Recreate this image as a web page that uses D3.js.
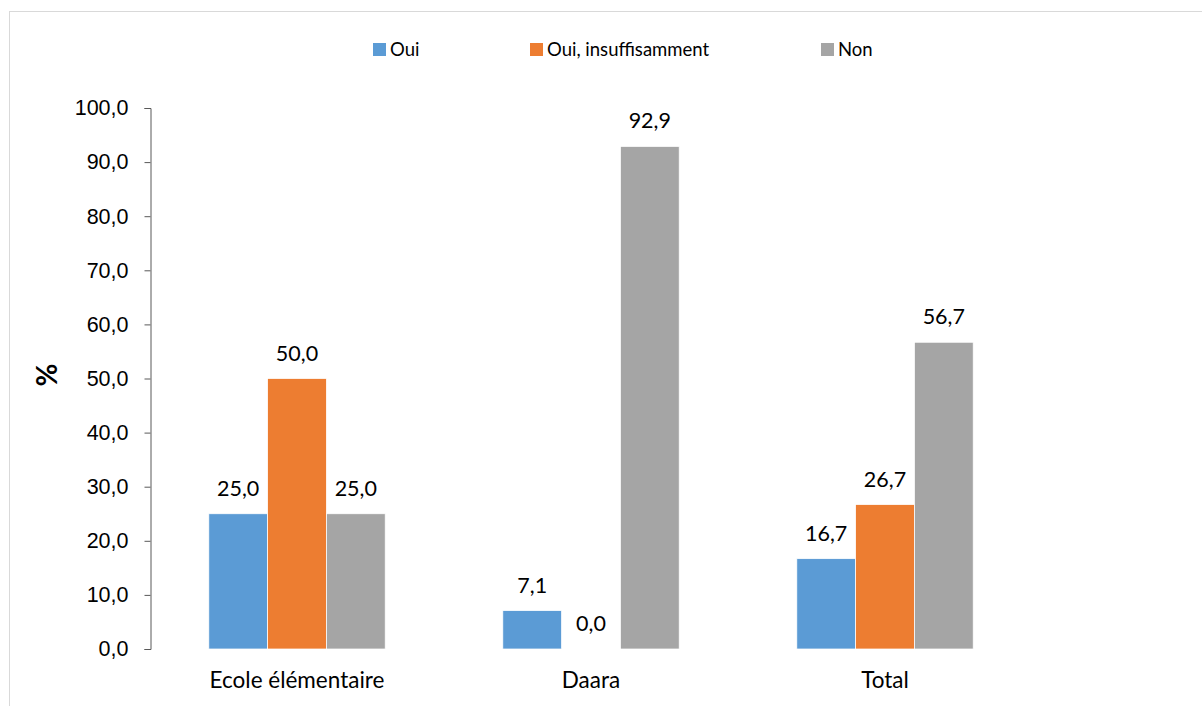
<!DOCTYPE html>
<html>
<head>
<meta charset="utf-8">
<script src="https://cdn.jsdelivr.net/npm/d3@7"></script>
<style>
  html, body { margin: 0; padding: 0; background: #fff; }
  svg { display: block; font-family: Lato, "Open Sans", sans-serif; }
</style>
</head>
<body>
<svg id="chart" width="1202" height="706"></svg>
<script>
// Survey answers by school type (percent)
const categories = ["Ecole élémentaire", "Daara", "Total"];
const seriesNames = ["Oui", "Oui, insuffisamment", "Non"];
const oui = [25.0, 7.1, 16.7];
const ouiInsuff = [50.0, 0.0, 26.7];
const non = [25.0, 92.9, 56.7];
const yTicks = [0, 10, 20, 30, 40, 50, 60, 70, 80, 90, 100];
const colors = ["#5B9BD5", "#ED7D31", "#A5A5A5"];

const seriesValues = [oui, ouiInsuff, non];
const fmt = v => v.toFixed(1).replace(".", ",");

const svg = d3.select("#chart");

// outer frame
svg.append("rect")
  .attr("x", 9.5).attr("y", 11.5)
  .attr("width", 1300).attr("height", 800)
  .attr("fill", "none").attr("stroke", "#D9D9D9").attr("stroke-width", 1);

const plot = { left: 150, right: 1032, top: 108, bottom: 649 };

const x0 = d3.scaleBand().domain(categories)
  .range([plot.left, plot.right]).paddingInner(0.4).paddingOuter(0.2);
const x1 = d3.scaleBand().domain(seriesNames).range([0, x0.bandwidth()]);
const y = d3.scaleLinear().domain([0, 100]).range([plot.bottom, plot.top]);

// y axis
const yAxis = d3.axisLeft(y).tickValues(yTicks).tickFormat(fmt).tickSizeOuter(0).tickSize(6).tickPadding(16);
const gy = svg.append("g").attr("transform", `translate(${plot.left + 0.5},0)`).call(yAxis);
gy.select(".domain").attr("stroke", "#595959");
gy.selectAll(".tick line").attr("stroke", "#595959");
gy.selectAll(".tick text").attr("font-size", 21.5).attr("fill", "#000");

// y title
svg.append("text")
  .attr("transform", "translate(57,375) rotate(-90)")
  .attr("text-anchor", "middle")
  .attr("font-size", 28).attr("font-weight", "bold").attr("fill", "#000")
  .text("%");

// bars
const groups = svg.append("g").selectAll("g")
  .data(categories).join("g")
  .attr("transform", d => `translate(${x0(d)},0)`);

groups.selectAll("rect")
  .data((c, i) => seriesNames.map((s, j) => ({ s, j, v: seriesValues[j][i] })))
  .join("rect")
  .attr("x", d => x1(d.s))
  .attr("width", x1.bandwidth())
  .attr("y", d => y(d.v))
  .attr("height", d => y(0) - y(d.v))
  .attr("fill", d => colors[d.j])
  .attr("stroke", "#fff").attr("stroke-width", 0.75);

groups.selectAll("text.val")
  .data((c, i) => seriesNames.map((s, j) => ({ s, j, v: seriesValues[j][i] })))
  .join("text")
  .attr("class", "val")
  .attr("x", d => x1(d.s) + x1.bandwidth() / 2)
  .attr("y", d => y(d.v) - 18)
  .attr("text-anchor", "middle")
  .attr("font-size", 21.5).attr("fill", "#000")
  .text(d => fmt(d.v));

// category labels
svg.append("g").selectAll("text")
  .data(categories).join("text")
  .attr("x", d => x0(d) + x0.bandwidth() / 2)
  .attr("y", 688)
  .attr("text-anchor", "middle")
  .attr("font-size", 22.5).attr("fill", "#000")
  .text(d => d);

// legend
const legendX = [373, 530, 821];
const lg = svg.append("g").selectAll("g")
  .data(seriesNames).join("g")
  .attr("transform", (d, i) => `translate(${legendX[i]},43)`);
lg.append("rect").attr("width", 13).attr("height", 13).attr("fill", (d, i) => colors[i]);
lg.append("text").attr("x", 17).attr("y", 13)
  .attr("font-size", 18.5).attr("fill", "#000").text(d => d);
</script>
</body>
</html>
